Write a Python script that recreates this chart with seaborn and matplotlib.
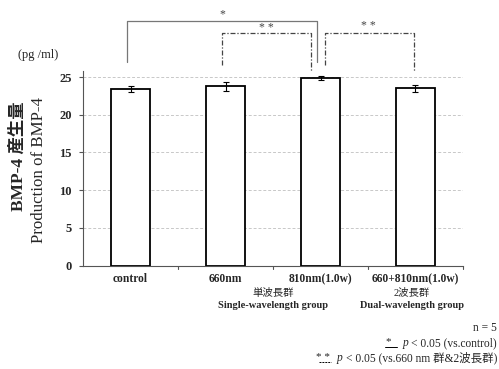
import matplotlib
matplotlib.use("Agg")
import matplotlib.pyplot as plt
import seaborn as sns
import pandas as pd
from matplotlib.lines import Line2D

# data
groups = ["control", "660nm", "810nm(1.0w)", "660+810nm(1.0w)"]
means = [23.4, 23.8, 24.9, 23.5]
errors = [0.45, 0.6, 0.3, 0.5]
yticks = [0, 5, 10, 15, 20, 25]

sns.set_theme(style="white")
SERIF = ["Liberation Serif", "Noto Sans CJK JP"]
plt.rcParams["font.family"] = SERIF

df = pd.DataFrame({"group": groups, "value": means})

W, H = 499, 369
fig = plt.figure(figsize=(W / 100, H / 100), dpi=100)
ax = fig.add_axes([83 / W, 1 - 265.5 / H, 380 / W, 194.5 / H])


def fx(px):
    return px / W


def fy(py):
    return 1 - py / H


sns.barplot(data=df, x="group", y="value", ax=ax, color="white",
            edgecolor="black", linewidth=1.3, width=0.41, errorbar=None,
            saturation=1)
for i, (m, e) in enumerate(zip(means, errors)):
    ax.errorbar(i, m, yerr=e, color="black", lw=0.8, capsize=2.4, capthick=0.8)

ax.set_xlim(-0.5, 3.5)
ax.set_ylim(0, 25.8)
ax.set_yticks(yticks)
ax.set_yticklabels([str(t) for t in yticks], fontweight="bold", fontsize=9)
for t in yticks[1:]:
    ax.axhline(t, color="#c8c8c8", lw=0.7, ls=(0, (3, 2)), zorder=0)

# category labels at centres, tick marks at category boundaries
ax.set_xticks([0, 1, 2, 3])
ax.set_xticklabels(groups, fontweight="bold", fontsize=8.3)
ax.tick_params(axis="x", length=0, pad=5.5)
ax.tick_params(axis="y", length=3, width=0.8, color="#555555", pad=5, left=True)
for b in [0.5, 1.5, 2.5, 3.5]:
    ax.plot([b, b], [0, -0.45], color="#555555", lw=0.8, clip_on=False)
ax.set_xlabel("")
ax.set_ylabel("")
for s in ["top", "right"]:
    ax.spines[s].set_visible(False)
for s in ["left", "bottom"]:
    ax.spines[s].set_color("#555555")
    ax.spines[s].set_linewidth(0.8)

# significance brackets
ax.plot([-0.04, -0.04, 1.96, 1.96], [27.0, 32.4, 32.4, 27.0], color="#777777",
        lw=0.9, clip_on=False)
ax.text(0.97, 33.3, "*", ha="center", va="center", fontsize=8.5, color="#444444")
dashdot = (0, (4, 1.5, 1, 1.5))
ax.plot([0.96, 0.96, 1.90, 1.90], [26.6, 30.8, 30.8, 25.7], color="#444444",
        lw=0.9, ls=dashdot, clip_on=False)
ax.text(1.43, 31.5, "* *", ha="center", va="center", fontsize=8.5, color="#444444")
ax.plot([2.05, 2.05, 2.98, 2.98], [26.6, 30.8, 30.8, 25.7], color="#444444",
        lw=0.9, ls=dashdot, clip_on=False)
ax.text(2.5, 31.8, "* *", ha="center", va="center", fontsize=8.5, color="#444444")

# units and axis titles
fig.text(fx(38), fy(55), "(pg /ml)", ha="center", va="center", fontsize=9)
fig.text(fx(19), fy(156), "BMP-4 産生量", rotation=90, ha="center",
         va="center", fontsize=12.5, fontweight="bold")
fig.text(fx(39), fy(170), "Production of BMP-4", rotation=90,
         ha="center", va="center", fontsize=12.2)

# group captions
fig.text(fx(273), fy(293), "単波長群", ha="center", va="center", fontsize=7.5)
fig.text(fx(273), fy(305), "Single-wavelength group", ha="center",
         va="center", fontsize=7.5, fontweight="bold")
fig.text(fx(412), fy(293), "2波長群", ha="center", va="center", fontsize=7.5)
fig.text(fx(412), fy(305), "Dual-wavelength group", ha="center",
         va="center", fontsize=7.5, fontweight="bold")

# footnotes
renderer = fig.canvas.get_renderer()
fig.text(fx(497), fy(328), "n = 5", ha="right", va="center", fontsize=8.3)


def footnote(py, rest, stars, line_style):
    t = fig.text(fx(497), fy(py), rest, ha="right", va="center", fontsize=8.3)
    left = t.get_window_extent(renderer).x0
    p = fig.text(left / W, fy(py), "p ", ha="right", va="center",
                 fontsize=8.3, style="italic")
    pl = p.get_window_extent(renderer).x0
    sx = pl - 14
    fig.text(sx / W, fy(py - 1), stars, ha="center", va="center", fontsize=8)
    fig.add_artist(Line2D([(sx - 4) / W, (sx + 8) / W],
                          [fy(py + 4), fy(py + 4)], color="black", lw=0.7,
                          ls=line_style))


footnote(343, "< 0.05 (vs.control)", "*", "-")
footnote(358, "< 0.05 (vs.660 nm 群&2波長群)", "* *", (0, (2, 1)))

fig.savefig("out.png", dpi=100)
